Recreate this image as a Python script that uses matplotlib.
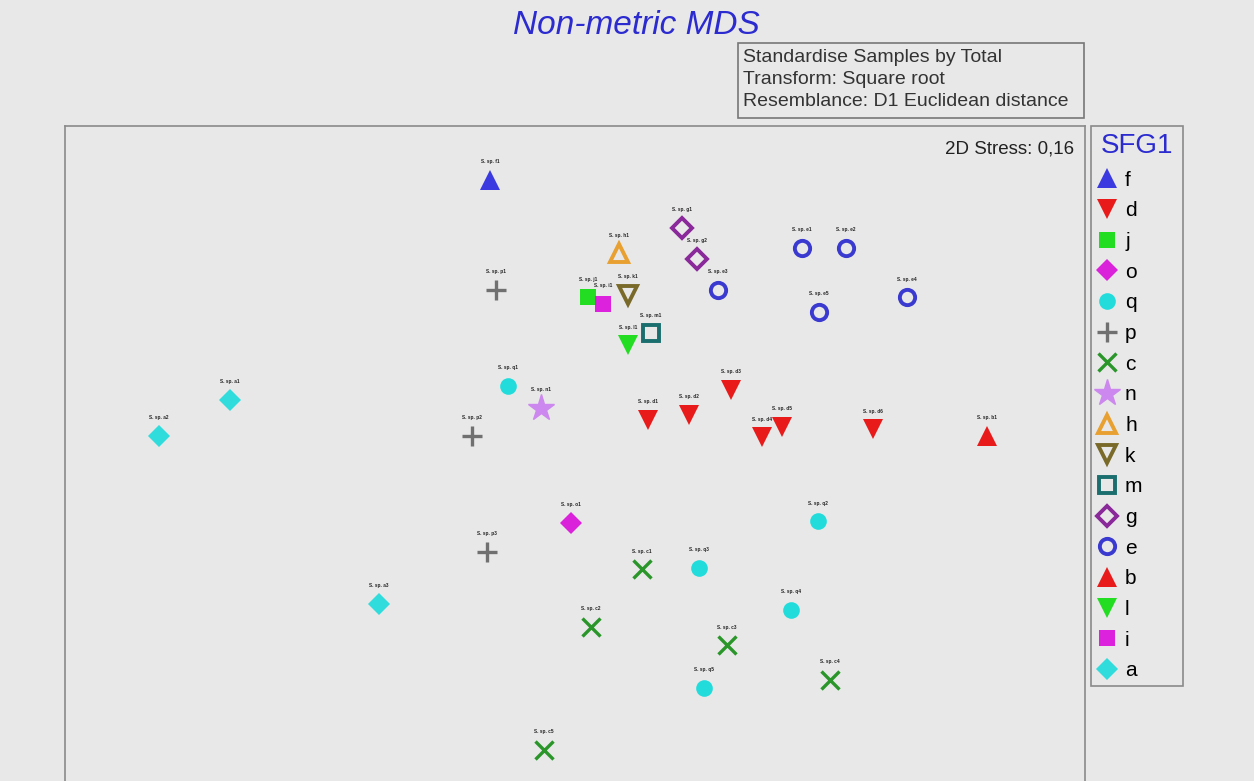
import matplotlib.pyplot as plt
from matplotlib.lines import Line2D
from matplotlib.patches import Rectangle

plt.rcParams['font.family'] = ['Liberation Sans', 'DejaVu Sans']

# nMDS ordination coordinates per SFG1 group
groups = ['f', 'd', 'j', 'o', 'q', 'p', 'c', 'n', 'h', 'k', 'm', 'g', 'e', 'b', 'l', 'i', 'a']

x_f = [-0.212]
y_f = [0.675]
x_d = [0.182, 0.285, 0.390, 0.468, 0.518, 0.745]
y_d = [0.075, 0.088, 0.150, 0.032, 0.058, 0.052]
x_j = [0.032]
y_j = [0.382]
x_o = [-0.010]
y_o = [-0.182]
x_q = [-0.168, 0.608, 0.310, 0.540, 0.322]
y_q = [0.160, -0.178, -0.295, -0.400, -0.595]
x_p = [-0.198, -0.258, -0.220]
y_p = [0.400, 0.035, -0.255]
x_c = [0.168, 0.040, 0.380, 0.638, -0.078]
y_c = [-0.298, -0.442, -0.488, -0.575, -0.750]
x_n = [-0.085]
y_n = [0.105]
x_h = [0.110]
y_h = [0.492]
x_k = [0.132]
y_k = [0.388]
x_m = [0.190]
y_m = [0.292]
x_g = [0.268, 0.305]
y_g = [0.555, 0.478]
x_e = [0.568, 0.678, 0.358, 0.830, 0.610]
y_e = [0.505, 0.505, 0.400, 0.382, 0.345]
x_b = [1.030]
y_b = [0.035]
x_l = [0.132]
y_l = [0.262]
x_i = [0.070]
y_i = [0.365]
x_a = [-0.862, -1.040, -0.490]
y_a = [0.125, 0.035, -0.385]

coords = {
    'f': (x_f, y_f), 'd': (x_d, y_d), 'j': (x_j, y_j), 'o': (x_o, y_o),
    'q': (x_q, y_q), 'p': (x_p, y_p), 'c': (x_c, y_c), 'n': (x_n, y_n),
    'h': (x_h, y_h), 'k': (x_k, y_k), 'm': (x_m, y_m), 'g': (x_g, y_g),
    'e': (x_e, y_e), 'b': (x_b, y_b), 'l': (x_l, y_l), 'i': (x_i, y_i),
    'a': (x_a, y_a),
}

# marker, colour, filled?
styles = {
    'f': ('^', '#3a3ae0', True),
    'd': ('v', '#e81a1a', True),
    'j': ('s', '#22dd22', True),
    'o': ('D', '#d922d9', True),
    'q': ('o', '#22dcdc', True),
    'p': ('+', '#707070', False),
    'c': ('x', '#2a962a', False),
    'n': ('*', '#cc88ee', False),
    'h': ('^', '#e8a030', False),
    'k': ('v', '#7a6a2a', False),
    'm': ('s', '#1a6e6e', False),
    'g': ('D', '#8a2a9a', False),
    'e': ('o', '#3a3ad0', False),
    'b': ('^', '#e81a1a', True),
    'l': ('v', '#22dd22', True),
    'i': ('s', '#dd22dd', True),
    'a': ('D', '#30dcdc', True),
}
sizes = {'^': 14, 'v': 14, 's': 12, 'D': 11, 'o': 12}

bg = '#e8e8e8'
fig = plt.figure(figsize=(12.54, 7.81), dpi=100, facecolor=bg)
ax = fig.add_axes([65 / 1254, -19 / 781, 1020 / 1254, 674 / 781])
ax.set_facecolor(bg)
ax.set_xlim(-1.275, 1.275)
ax.set_ylim(-0.875, 0.81)
ax.set_xticks([])
ax.set_yticks([])
for s in ax.spines.values():
    s.set_color('#8a8a8a')
    s.set_linewidth(1.2)

handles = []
for g in groups:
    xs, ys = coords[g]
    m, col, filled = styles[g]
    if m in ('+', 'x'):
        kw = dict(color=col, markersize=15 if m == '+' else 13, markeredgewidth=2.4)
    elif m == '*':
        kw = dict(color=col, markersize=20, markeredgewidth=1.0)
    elif filled:
        kw = dict(color=col, markersize=sizes[m], markeredgewidth=0)
    else:
        kw = dict(markerfacecolor='none', markeredgecolor=col,
                  markersize=sizes[m] - 1, markeredgewidth=2.8)
    ax.plot(xs, ys, linestyle='none', marker=m, **kw)
    handles.append(Line2D([], [], linestyle='none', marker=m, label=g, **kw))
    # tiny sample labels above the points
    for k, (x, y) in enumerate(zip(xs, ys)):
        ax.annotate('S. sp. %s%d' % (g, k + 1), (x, y), xytext=(0, 12),
                    textcoords='offset points', ha='center', fontsize=3.4,
                    fontweight='bold', color='#222222')

ax.text(0.989, 0.979, '2D Stress: 0,16', transform=ax.transAxes,
        ha='right', va='top', fontsize=13.5, color='#222222')

fig.text(636 / 1254, 1 - 25 / 781, 'Non-metric MDS', ha='center', va='center',
         fontsize=24, style='italic', color='#2b2bd0')

# processing notes box
fig.patches.append(Rectangle((738 / 1254, 1 - 118 / 781), 346 / 1254, 75 / 781,
                             transform=fig.transFigure, facecolor=bg,
                             edgecolor='#777777', linewidth=1.2))
fig.text(743 / 1254, 1 - 49 / 781,
         'Standardise Samples by Total\nTransform: Square root\nResemblance: D1 Euclidean distance',
         ha='left', va='top', fontsize=14, color='#333333', linespacing=1.4)

# legend frame
fig.patches.append(Rectangle((1091 / 1254, 1 - 686 / 781), 92 / 1254, 560 / 781,
                             transform=fig.transFigure, facecolor=bg,
                             edgecolor='#8a8a8a', linewidth=1.2))
leg = fig.legend(handles=handles, loc='upper left',
                 bbox_to_anchor=(1099 / 1254, 1 - 131 / 781),
                 bbox_transform=fig.transFigure, borderaxespad=0,
                 title='SFG1', fontsize=15, title_fontsize=20,
                 frameon=False, labelspacing=0.56, handlelength=0.6,
                 handletextpad=0.55, markerscale=1.0, borderpad=0.1)
leg.get_title().set_color('#2b2bd0')
leg._legend_box.align = 'left'

fig.savefig('out.png', dpi=100, facecolor=bg)
